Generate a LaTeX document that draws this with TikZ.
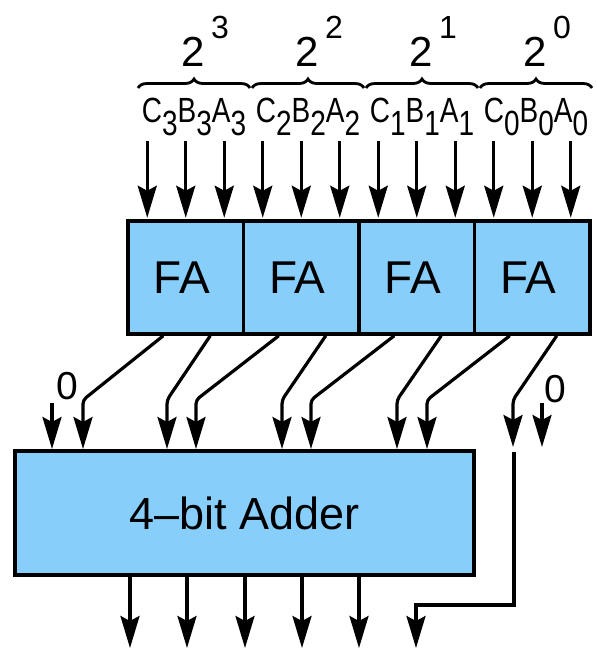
\documentclass[tikz,border=0pt]{standalone}
\usepackage{fontspec}
\setmainfont{Liberation Sans}
\usepackage{graphicx}
\usetikzlibrary{arrows.meta,decorations.pathreplacing}
\definecolor{fabl}{RGB}{135,206,250}
\newcommand{\grplabel}[1]{\scalebox{0.8}[1]{C\raisebox{-13pt}{#1}B\raisebox{-13pt}{#1}A\raisebox{-13pt}{#1}}}
\tikzset{
  box/.style={draw=black, fill=fabl, line width=3.5pt, inner sep=0pt},
  fabox/.style={box, minimum width=115.5pt, minimum height=113pt, font=\fontsize{46}{50}\selectfont},
  adderbox/.style={box, minimum width=459pt, minimum height=124pt, font=\fontsize{45}{50}\selectfont},
  wire/.style={line width=3.2pt},
  arr/.style={wire, -{Stealth[length=32pt,width=19pt,inset=5pt]}},
  brc/.style={decorate, decoration={brace, amplitude=9pt}, line width=2.8pt},
  lbl/.style={inner sep=0pt, anchor=base, font=\fontsize{35}{40}\selectfont},
  base2/.style={inner sep=0pt, anchor=base, font=\fontsize{42}{46}\selectfont},
  expo/.style={inner sep=0pt, anchor=base, font=\fontsize{32}{36}\selectfont},
  zero/.style={inner sep=0pt, font=\fontsize{39}{42}\selectfont},
}
\begin{document}
\begin{tikzpicture}[x=1pt,y=-1pt]
\useasboundingbox (0,0) rectangle (597,649);
% full adders
\node[fabox] (fa3) at (185.75,277.5) {\hspace*{-8pt}FA};
\node[fabox] (fa2) at (301.25,277.5) {\hspace*{-8pt}FA};
\node[fabox] (fa1) at (416.75,277.5) {\hspace*{-8pt}FA};
\node[fabox] (fa0) at (532.25,277.5) {\hspace*{-8pt}FA};
% 4-bit adder
\node[adderbox] (adder) at (244.5,513) {4–bit Adder};
% labels
\foreach \n/\c/\t/\e in {3/194/193/220, 2/308/307/334, 1/422/421/448, 0/536/535/562}{
  \node[lbl] (lab\n) at (\c,122) {\grplabel{\n}};
  \node[base2] (two\n) at (\t,66) {2};
  \node[expo] (exp\n) at (\e,38) {\n};
  \draw[brc] (\c-56,88) -- (\c+56,88);
}
% input arrows
\foreach \n in {3,2,1,0}{
  \foreach \o in {-38.5,0,38.5}{
    \draw[arr] ([xshift=\o pt, yshift=78pt]fa\n.north) -- ([xshift=\o pt, yshift=1.5pt]fa\n.north);
  }
}
% adder inputs
\coordinate (bend) at (0,400);
\coordinate (in0) at (52,449);
\coordinate (in1) at (83,449);
\coordinate (in2) at (167,449);
\coordinate (in3) at (196,449);
\coordinate (in4) at (282,449);
\coordinate (in5) at (311,449);
\coordinate (in6) at (397,449);
\coordinate (in7) at (427,449);
\coordinate (cin) at (513,447);
\coordinate (czero) at (542,447);
\coordinate (cout) at (416,648);
% zero inputs
\node[zero] (z0) at (67,386) {0};
\node[zero] (z1) at (555,389) {0};
\draw[arr] (in0 |- 0,403) -- (in0);
\draw[arr] (czero |- 0,403) -- (czero);
% FA outputs to adder
\draw[arr, rounded corners=4pt] ([xshift=37pt]fa3.south west) -- (in1 |- bend) -- (in1);
\draw[arr, rounded corners=4pt] ([xshift=84pt]fa3.south west) -- (in2 |- bend) -- (in2);
\draw[arr, rounded corners=4pt] ([xshift=37pt]fa2.south west) -- (in3 |- bend) -- (in3);
\draw[arr, rounded corners=4pt] ([xshift=84pt]fa2.south west) -- (in4 |- bend) -- (in4);
\draw[arr, rounded corners=4pt] ([xshift=37pt]fa1.south west) -- (in5 |- bend) -- (in5);
\draw[arr, rounded corners=4pt] ([xshift=84pt]fa1.south west) -- (in6 |- bend) -- (in6);
\draw[arr, rounded corners=4pt] ([xshift=37pt]fa0.south west) -- (in7 |- bend) -- (in7);
\draw[arr, rounded corners=4pt] ([xshift=84pt]fa0.south west) -- (cin |- bend) -- (cin);
% carry path
\draw[arr] (514,452) -- (514,605) -- (cout |- 0,605) -- (cout);
% outputs
\foreach \x in {130,187,245,302,359}{
  \draw[arr] (adder.south -| \x,0) -- (\x,648);
}
\end{tikzpicture}
\end{document}
